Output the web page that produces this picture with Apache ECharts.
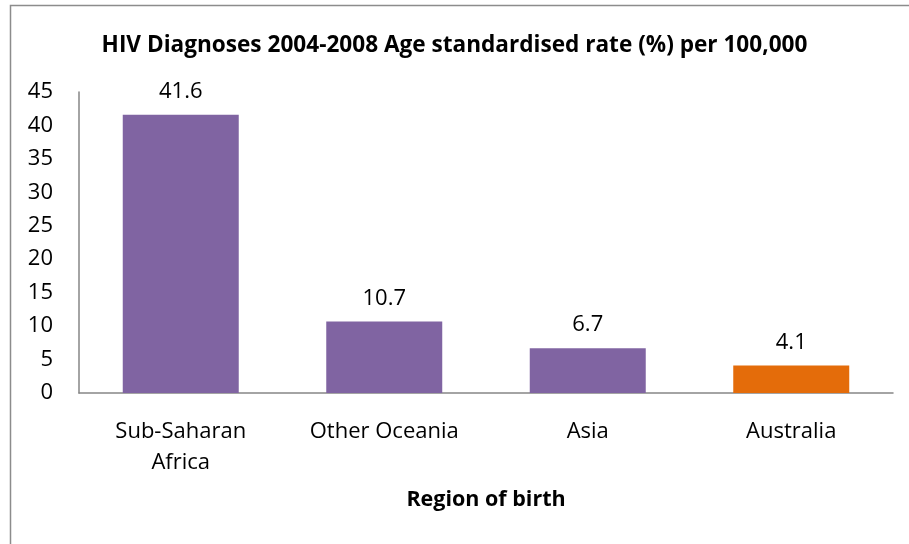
<!DOCTYPE html>
<html>
<head>
<meta charset="UTF-8">
<title>HIV Diagnoses</title>
<script src="https://cdn.jsdelivr.net/npm/echarts@6/dist/echarts.min.js"></script>
<style>
  html, body { margin: 0; padding: 0; background: #fff; }
  #chart { width: 909px; height: 544px; }
</style>
</head>
<body>
<div id="chart"></div>
<script>
var regions = ['Sub-Saharan\nAfrica', 'Other Oceania', 'Asia', 'Australia'];
var rates = [41.6, 10.7, 6.7, 4.1];
var barColors = ['#8064a2', '#8064a2', '#8064a2', '#e46c0a'];

var font = '"Open Sans", sans-serif';
var chart = echarts.init(document.getElementById('chart'));

chart.setOption({
    animation: false,
    textStyle: { fontFamily: font },
    title: {
        text: 'HIV Diagnoses 2004-2008 Age standardised rate (%) per 100,000',
        left: 'center',
        top: 29,
        textStyle: { fontFamily: font, fontSize: 22.6, fontWeight: 'bold', color: '#000' }
    },
    graphic: [{
        type: 'rect',
        shape: { x: 10.5, y: 5.5, width: 920, height: 560 },
        style: { fill: 'none', stroke: '#8c8c8c', lineWidth: 1.5 }
    }],
    grid: { left: 79, right: 16, top: 92, bottom: 151 },
    xAxis: {
        type: 'category',
        data: regions,
        name: 'Region of birth',
        nameLocation: 'middle',
        nameGap: 96,
        nameTextStyle: { fontFamily: font, fontSize: 21.5, fontWeight: 'bold', color: '#000' },
        axisLine: { lineStyle: { color: '#868686', width: 1.5 } },
        axisTick: { show: false },
        axisLabel: { fontFamily: font, fontSize: 22, color: '#000', margin: 23, lineHeight: 31 }
    },
    yAxis: {
        type: 'value',
        min: 0,
        max: 45,
        interval: 5,
        splitLine: { show: false },
        axisLine: { show: true, lineStyle: { color: '#868686', width: 1.5 } },
        axisTick: { show: false },
        axisLabel: { fontFamily: font, fontSize: 22, color: '#000', margin: 26 }
    },
    series: [{
        type: 'bar',
        barWidth: '57%',
        data: rates.map(function (v, i) {
            return { value: v, itemStyle: { color: barColors[i] } };
        }),
        label: {
            show: true,
            position: 'top',
            distance: 12,
            fontFamily: font,
            fontSize: 22,
            color: '#000'
        }
    }]
});
</script>
</body>
</html>
